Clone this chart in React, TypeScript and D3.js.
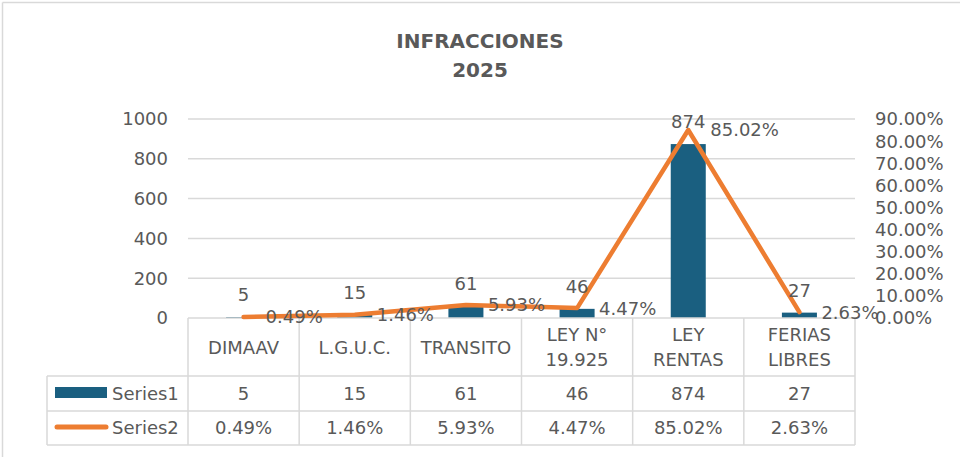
import React from "react";
import * as d3 from "d3";

const categories: string[][] = [["DIMAAV"], ["L.G.U.C."], ["TRANSITO"], ["LEY N°", "19.925"], ["LEY", "RENTAS"], ["FERIAS", "LIBRES"]];
const series1: number[] = [5, 15, 61, 46, 874, 27];
const series2: number[] = [0.0049, 0.0146, 0.0593, 0.0447, 0.8502, 0.0263];
const leftTicks: number[] = [0, 200, 400, 600, 800, 1000];
const rightTicks: number[] = [0, 0.1, 0.2, 0.3, 0.4, 0.5, 0.6, 0.7, 0.8, 0.9];
const seriesNames: string[] = ["Series1", "Series2"];
const titleLines: string[] = ["INFRACCIONES", "2025"];

const W = 960, H = 457;
const PL = 188, PR = 855, PT = 119, PB = 318;
const rowH = 376, row1 = 411, row2 = 445, legL = 47;
const TXT = "#595959";
const GRID = "#d9d9d9";
const BAR = "#1a5f80";
const LINE = "#ed7d31";
const FONT = "'DejaVu Sans', sans-serif";

export default function App() {
  const x = d3.scaleBand<number>().domain(d3.range(categories.length)).range([PL, PR]).padding(0);
  const yL = d3.scaleLinear().domain([0, 1000]).range([PB, PT]);
  const yR = d3.scaleLinear().domain([0, 0.9]).range([PB, PT]);
  const bw = x.bandwidth();
  const barW = bw * 0.315;
  const cx = (i: number) => (x(i) as number) + bw / 2;
  const fmtP = (v: number) => (v * 100).toFixed(2) + "%";
  const line = d3.line<number>().x((_, i) => cx(i)).y((d) => yR(d));

  const colEdges = d3.range(categories.length + 1).map((i) => PL + i * bw);

  return (
    <svg width={W} height={H} style={{ position: "absolute", left: 0, top: 0, background: "#fff" }} fontFamily={FONT}>
      <rect x={0} y={0} width={W} height={H} fill="#fff" />
      <line x1={2.5} y1={2.5} x2={W} y2={2.5} stroke={GRID} strokeWidth={1.5} />
      <line x1={2.5} y1={2.5} x2={2.5} y2={H} stroke={GRID} strokeWidth={1.5} />
      {titleLines.map((t, i) => (
        <text key={t} x={480} y={48 + i * 29} textAnchor="middle" fontSize={20} fontWeight="bold" fill={TXT}>{t}</text>
      ))}
      {leftTicks.filter((t) => t > 0).map((t) => (
        <line key={"g" + t} x1={PL} x2={PR} y1={yL(t)} y2={yL(t)} stroke={GRID} strokeWidth={1.5} />
      ))}
      {leftTicks.map((t) => (
        <text key={"l" + t} x={168} y={yL(t)} dy="0.36em" textAnchor="end" fontSize={18} fill={TXT}>{t}</text>
      ))}
      {rightTicks.map((t) => (
        <text key={"r" + t} x={875} y={yR(t)} dy="0.36em" textAnchor="start" fontSize={18} fill={TXT}>{fmtP(t)}</text>
      ))}
      {series1.map((v, i) => (
        <rect key={"b" + i} x={cx(i) - barW / 2} y={yL(v)} width={barW} height={PB - yL(v)} fill={BAR} />
      ))}
      {/* table */}
      <line x1={PL} x2={PR} y1={PB} y2={PB} stroke={GRID} strokeWidth={1.5} />
      {[rowH, row1, row2].map((yy) => (
        <line key={"h" + yy} x1={legL} x2={PR} y1={yy} y2={yy} stroke={GRID} strokeWidth={1.5} />
      ))}
      {colEdges.map((xx, i) => (
        <line key={"v" + i} x1={xx} x2={xx} y1={PB} y2={row2} stroke={GRID} strokeWidth={1.5} />
      ))}
      <line x1={legL} x2={legL} y1={rowH} y2={row2} stroke={GRID} strokeWidth={1.5} />
      <path d={line(series2) || ""} fill="none" stroke={LINE} strokeWidth={4.5} strokeLinejoin="round" strokeLinecap="round" />
      {series1.map((v, i) => (
        <text key={"bl" + i} x={cx(i)} y={yL(v) - 16} textAnchor="middle" fontSize={18} fill={TXT}>{v}</text>
      ))}
      {series2.map((v, i) => (
        <text key={"pl" + i} x={cx(i) + 22} y={yR(v)} dy="0.36em" textAnchor="start" fontSize={18} fill={TXT}>{fmtP(v)}</text>
      ))}
      {categories.map((lines, i) => (
        <text key={"c" + i} x={cx(i)} textAnchor="middle" fontSize={18} fill={TXT}>
          {lines.map((s, j) => (
            <tspan key={j} x={cx(i)} y={(PB + rowH) / 2 + 6.5 + (j - (lines.length - 1) / 2) * 25}>{s}</tspan>
          ))}
        </text>
      ))}
      {series1.map((v, i) => (
        <text key={"t1" + i} x={cx(i)} y={(rowH + row1) / 2} dy="0.36em" textAnchor="middle" fontSize={18} fill={TXT}>{v}</text>
      ))}
      {series2.map((v, i) => (
        <text key={"t2" + i} x={cx(i)} y={(row1 + row2) / 2} dy="0.36em" textAnchor="middle" fontSize={18} fill={TXT}>{fmtP(v)}</text>
      ))}
      <rect x={55} y={387} width={52} height={11} fill={BAR} />
      <line x1={57} x2={106} y1={427} y2={427} stroke={LINE} strokeWidth={5} strokeLinecap="round" />
      {seriesNames.map((s, i) => (
        <text key={s} x={112} y={i === 0 ? (rowH + row1) / 2 : (row1 + row2) / 2} dy="0.36em" fontSize={18} fill={TXT}>{s}</text>
      ))}
    </svg>
  );
}
